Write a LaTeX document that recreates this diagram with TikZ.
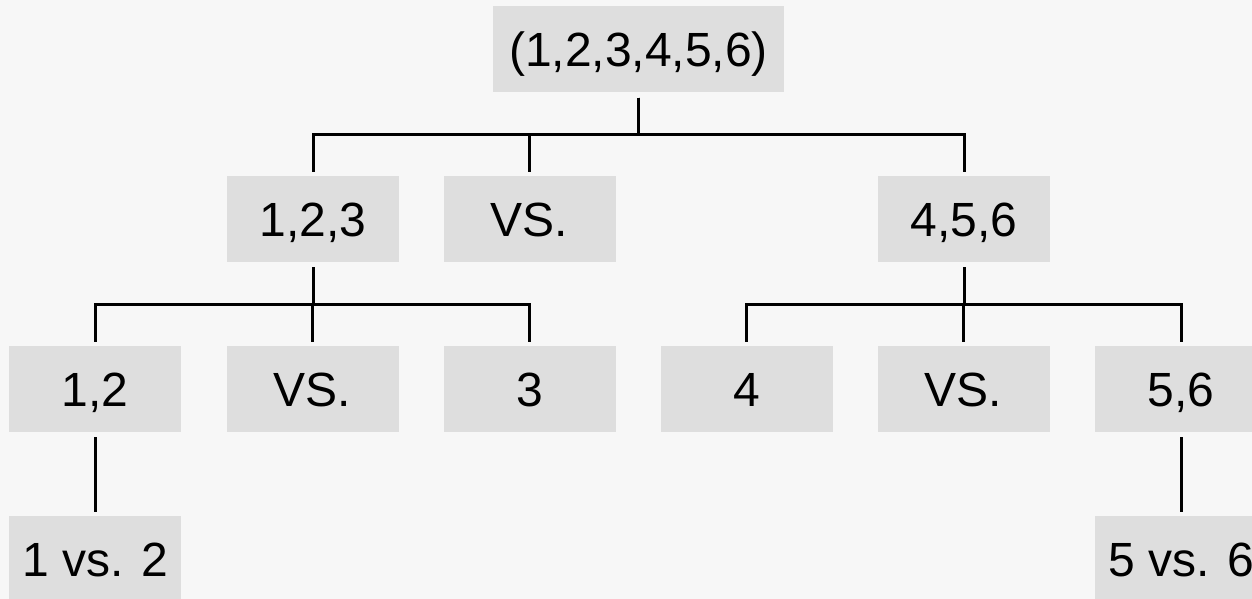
\documentclass[tikz,border=0pt]{standalone}
\usepackage{fontspec}
\setmainfont{Liberation Sans}
\definecolor{pagebg}{HTML}{F7F7F7}
\definecolor{boxfill}{HTML}{DEDEDE}
\begin{document}
\begin{tikzpicture}[x=1pt,y=-1pt,
  cell/.style={fill=boxfill, draw=none, inner sep=0pt, minimum width=172pt,
    minimum height=86pt, text height=34pt, text depth=0pt,
    font=\fontsize{48}{56}\selectfont},
  link/.style={draw=black, line width=3pt, shorten <=5pt, shorten >=4pt}]
  % canvas
  \fill[pagebg] (0,0) rectangle (1252,599);
  \useasboundingbox (0,0) rectangle (1252,599);
  \clip (0,0) rectangle (1252,599);

  % level 0
  \node[cell, minimum width=291pt] (root) at (638.5,49.5) {(1,2,3,4,5,6)};
  % level 1
  \node[cell] (a)  at (313,219) {1,2,3};
  \node[cell] (av) at (529.5,219) {VS.};
  \node[cell] (b)  at (964,219) {4,5,6};
  % level 2
  \node[cell] (a1) at (95,389) {1,2};
  \node[cell] (a2) at (312.5,389) {VS.};
  \node[cell] (a3) at (529.5,389) {3};
  \node[cell] (b1) at (746.5,389) {4};
  \node[cell] (b2) at (963.5,389) {VS.};
  \node[cell] (b3) at (1181,389) {5,6};
  % level 3
  \node[cell] (a1x) at (95,559) {1 vs. 2};
  \node[cell] (b3x) at (1181,559) {5 vs. 6};

  % connectors
  \foreach \c in {a,av,b}
    \draw[link] (root.south) -- ++(0,42) -| (\c.north);
  \foreach \c in {a1,a2,a3}
    \draw[link] (a.south) -- ++(0,42) -| (\c.north);
  \foreach \c in {b1,b2,b3}
    \draw[link] (b.south) -- ++(0,42) -| (\c.north);
  \draw[link] (a1.south) -- (a1x.north);
  \draw[link] (b3.south) -- (b3x.north);
\end{tikzpicture}
\end{document}
